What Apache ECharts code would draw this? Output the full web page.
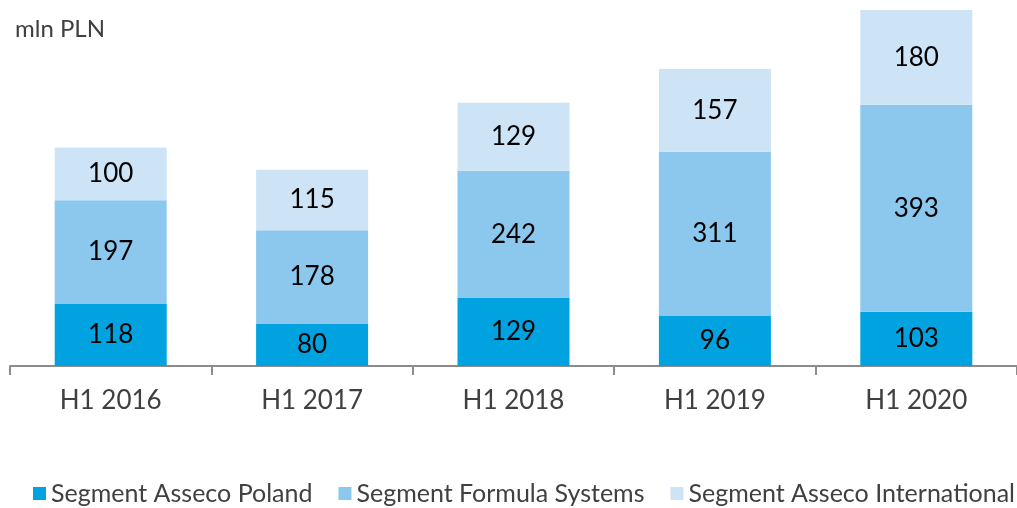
<!DOCTYPE html>
<html><head><meta charset="utf-8">
<script src="https://cdn.jsdelivr.net/npm/echarts@6/dist/echarts.min.js"></script>
<style>html,body{margin:0;padding:0;background:#fff}#c{width:1017px;height:508px}</style>
</head><body><div id="c"></div>
<script>
const categories = ['H1 2016','H1 2017','H1 2018','H1 2019','H1 2020'];
const seriesNames = ['Segment Asseco Poland','Segment Formula Systems','Segment Asseco International'];
const poland = [118, 80, 129, 96, 103];
const formula = [197, 178, 242, 311, 393];
const international = [100, 115, 129, 157, 180];
const colors = ['#00A3E0','#8CC8EE','#CDE4F7'];
const font = 'Lato, "Open Sans", sans-serif';
const chart = echarts.init(document.getElementById('c'));
function mk(name, data, color){
  return {name, type:'bar', stack:'t', data, barWidth:112,
    itemStyle:{color},
    label:{show:true, position:'inside', color:'#000', fontSize:26, fontFamily:font}};
}
chart.setOption({
  animation:false,
  textStyle:{fontFamily:font},
  title:{text:'mln PLN', left:10, top:12, textStyle:{fontSize:24, fontWeight:'normal', color:'#404040', fontFamily:font}},
  legend:{bottom:2, left:33, width:984, padding:0, itemWidth:13, itemHeight:13, itemGap:26,
    icon:'rect', textStyle:{fontSize:25, color:'#404040', fontFamily:font},
    data:seriesNames},
  grid:{left:10, right:-5, top:8, bottom:142, containLabel:false},
  xAxis:{type:'category', data:categories,
    axisLine:{lineStyle:{color:'#8c8c8c', width:2}},
    axisTick:{show:true, length:9, lineStyle:{color:'#8c8c8c', width:2}},
    axisLabel:{fontSize:26, color:'#404040', margin:22, fontFamily:font}},
  yAxis:{type:'value', min:0, max:680, show:false, splitLine:{show:false}},
  series:[mk(seriesNames[0], poland, colors[0]), mk(seriesNames[1], formula, colors[1]), mk(seriesNames[2], international, colors[2])]
});
</script></body></html>
